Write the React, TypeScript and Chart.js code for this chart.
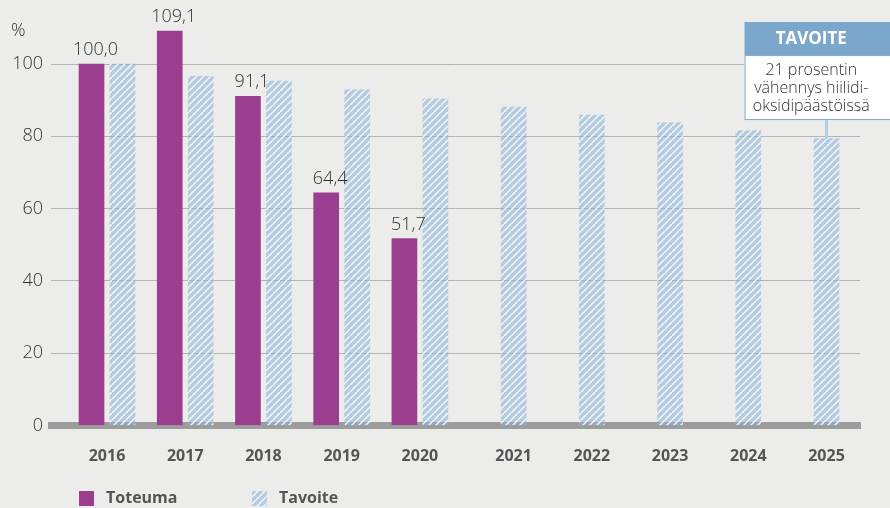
import React, { useEffect, useRef } from 'react';
import { Chart, registerables } from 'chart.js';

Chart.register(...registerables);

// ---- data ----
const years = ['2016', '2017', '2018', '2019', '2020', '2021', '2022', '2023', '2024', '2025'];
const toteuma = [100.0, 109.1, 91.1, 64.4, 51.7];
const tavoite = [100.0, 96.6, 95.3, 92.9, 90.4, 88.1, 85.9, 83.8, 81.6, 79.4];
const yTicks = [0, 20, 40, 60, 80, 100];
const seriesNames = ['Toteuma', 'Tavoite'];
const yUnit = '%';
const calloutTitle = 'TAVOITE';
const calloutLines = ['21 prosentin', 'vähennys hiilidi-', 'oksidipäästöissä'];

// ---- style ----
const FONT = "'Open Sans', 'Noto Sans', sans-serif";
const PURPLE = '#9b3e8f';
const BLUE_HEAD = '#7ba7cd';
const BG = '#ececea';
const PAIR = 0.396; // offset between the two bars of a year, in category units

function makeHatch(): CanvasPattern | string {
  const s = 7;
  const c = document.createElement('canvas');
  c.width = s;
  c.height = s;
  const g = c.getContext('2d');
  if (!g) return 'rgba(140,178,214,0.55)';
  g.fillStyle = 'rgba(140,178,214,0.58)';
  g.fillRect(0, 0, s, s);
  g.strokeStyle = 'rgba(255,255,255,0.85)';
  g.lineWidth = 1.5;
  g.beginPath();
  for (const k of [-1, 0, 1]) {
    g.moveTo(k * s, s);
    g.lineTo(k * s + s, 0);
  }
  g.stroke();
  return g.createPattern(c, 'repeat') as CanvasPattern;
}

const fmt = (v: number) => v.toFixed(1).replace('.', ',');

export default function App() {
  const ref = useRef<HTMLCanvasElement>(null);

  useEffect(() => {
    if (!ref.current) return;
    const hatch = makeHatch();

    const overlay = {
      id: 'overlay',
      afterDatasetsDraw(chart: any) {
        const ctx = chart.ctx;
        const meta = chart.getDatasetMeta(0);
        ctx.save();
        ctx.fillStyle = '#333';
        ctx.font = `300 18px ${FONT}`;
        ctx.textAlign = 'center';
        ctx.textBaseline = 'alphabetic';
        meta.data.forEach((el: any, i: number) => {
          ctx.fillText(fmt(toteuma[i]), el.x + 4, el.y - 9);
        });
        ctx.restore();
      },
      afterDraw(chart: any) {
        const ctx = chart.ctx;
        const xs = chart.scales.x;
        const ys = chart.scales.y;
        ctx.save();
        // unit label
        ctx.fillStyle = '#333';
        ctx.font = `300 18px ${FONT}`;
        ctx.textAlign = 'left';
        ctx.textBaseline = 'middle';
        ctx.fillText(yUnit, 11, ys.getPixelForValue(100) - 33);

        // callout
        const last = tavoite.length - 1;
        const bx = xs.getPixelForValue(last);
        const barTop = ys.getPixelForValue(tavoite[last]);
        const left = bx - 82;
        const right = chart.width;
        const top = ys.getPixelForValue(100) - 42;
        const headH = 33;
        const bodyH = 65;
        const cx = (left + right) / 2 - 6;
        // connector
        ctx.strokeStyle = '#b3cde3';
        ctx.lineWidth = 3;
        ctx.beginPath();
        ctx.moveTo(bx, top + headH + bodyH);
        ctx.lineTo(bx, barTop);
        ctx.stroke();
        // body
        ctx.fillStyle = '#ffffff';
        ctx.fillRect(left, top + headH, right - left, bodyH);
        ctx.strokeStyle = BLUE_HEAD;
        ctx.lineWidth = 1;
        ctx.strokeRect(left + 0.5, top + headH + 0.5, right - left, bodyH - 1);
        // head
        ctx.fillStyle = BLUE_HEAD;
        ctx.fillRect(left, top, right - left, headH);
        ctx.fillStyle = '#ffffff';
        ctx.font = `bold 17px ${FONT}`;
        ctx.textAlign = 'center';
        ctx.textBaseline = 'middle';
        ctx.fillText(calloutTitle, cx, top + headH / 2 + 1);
        ctx.fillStyle = '#333';
        ctx.font = `300 16px ${FONT}`;
        calloutLines.forEach((t, i) => {
          ctx.fillText(t, cx, top + headH + 15 + i * 18);
        });

        // legend
        const ly = chart.height - 17;
        const items = [
          { x: xs.getPixelForValue(-PAIR) - 12.5, fill: PURPLE, label: seriesNames[0] },
          { x: 252, fill: hatch, label: seriesNames[1] },
        ];
        ctx.font = `bold 16px ${FONT}`;
        ctx.textAlign = 'left';
        ctx.textBaseline = 'middle';
        items.forEach((it) => {
          ctx.fillStyle = it.fill as any;
          ctx.fillRect(it.x, ly, 15, 15);
          ctx.fillStyle = '#555';
          ctx.fillText(it.label, it.x + 27, ly + 7.5);
        });
        ctx.restore();
      },
    };

    const chart = new Chart(ref.current, {
      type: 'bar',
      data: {
        datasets: [
          {
            label: seriesNames[0],
            data: toteuma.map((v, i) => ({ x: i - PAIR, y: v })),
            backgroundColor: PURPLE,
            barThickness: 25,
            maxBarThickness: 25,
            grouped: false,
          } as any,
          {
            label: seriesNames[1],
            data: tavoite.map((v, i) => ({ x: i, y: v })),
            backgroundColor: hatch as any,
            barThickness: 25,
            maxBarThickness: 25,
            grouped: false,
          } as any,
        ],
      },
      options: {
        animation: false,
        responsive: true,
        maintainAspectRatio: false,
        events: [],
        layout: { padding: { top: 27.9, right: 30, left: 0, bottom: 0 } },
        plugins: {
          legend: { display: false },
          tooltip: { enabled: false },
        },
        scales: {
          x: {
            type: 'linear',
            min: -0.914,
            max: 9.428,
            offset: false,
            z: 1,
            grid: { display: false, drawTicks: false, offset: false },
            border: { display: true, color: '#9c9c9c', width: 7 },
            afterBuildTicks: (scale: any) => {
              scale.ticks = years.map((_, i) => ({ value: i < toteuma.length ? i - PAIR / 2 : i }));
            },
            afterFit: (scale: any) => {
              scale.height = 82.5;
            },
            ticks: {
              autoSkip: false,
              maxRotation: 0,
              minRotation: 0,
              padding: 21,
              color: '#555',
              font: { family: FONT, size: 16, weight: 'bold' },
              callback: (_v: any, idx: number) => years[idx],
            },
          } as any,
          y: {
            min: 0,
            max: 110,
            grid: { color: '#b4b4b4', lineWidth: 1, drawTicks: false },
            border: { display: false },
            afterBuildTicks: (scale: any) => {
              scale.ticks = yTicks.map((v) => ({ value: v }));
            },
            afterFit: (scale: any) => {
              scale.width = 51;
            },
            ticks: {
              padding: 8,
              color: '#333',
              font: { family: FONT, size: 18, weight: 300 as any },
              callback: (v: any) => String(v),
            },
          } as any,
        },
      },
      plugins: [overlay],
    });
    return () => chart.destroy();
  }, []);

  return (
    <div style={{ position: 'absolute', left: 0, top: 0, width: 890, height: 508, background: BG }}>
      <canvas ref={ref} />
    </div>
  );
}
